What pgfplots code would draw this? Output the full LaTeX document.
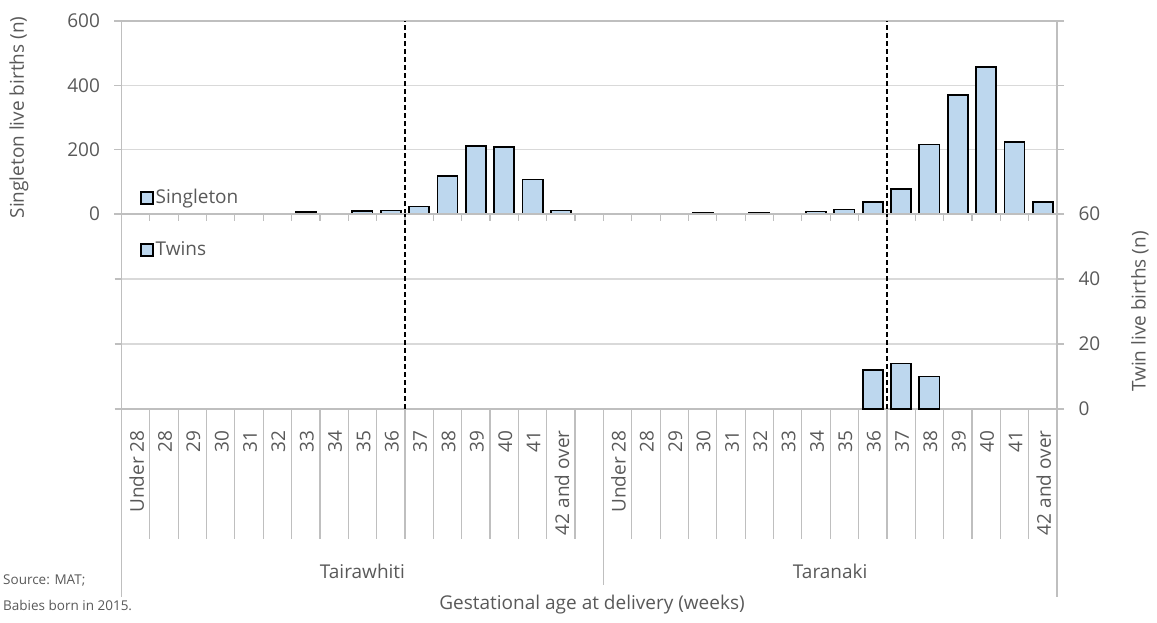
\documentclass[border=0pt]{standalone}
\usepackage{fontspec}
\setmainfont{Open Sans}
\usepackage{pgfplots}
\pgfplotsset{compat=1.18}
\definecolor{barblue}{HTML}{BDD7EE}
\definecolor{gridgray}{HTML}{D9D9D9}
\definecolor{axgray}{HTML}{BFBFBF}
\definecolor{txtgray}{HTML}{595959}
\newcommand{\mf}{\fontsize{19}{23}\selectfont}
\begin{document}
\mf
\begin{tikzpicture}
\useasboundingbox (0pt,0pt) rectangle (1157pt,623pt);
\pgfplotsset{
  common/.style={
    scale only axis, width=935.5pt, anchor=south west,
    xmin=-0.5, xmax=32.5,
    axis line style={axgray, line width=1.2pt},
    grid style={gridgray, line width=1.2pt},
    ymajorgrids,
    tick style={axgray, line width=1.2pt},
    tick align=outside,
    major tick length=7pt,
    ticklabel style={text=txtgray, font=\mf},
    label style={text=txtgray, font=\mf},
    /pgf/number format/assume math mode=true,
    clip=false,
    legend style={draw=none, fill=none, font=\mf, text=txtgray, inner sep=0pt, anchor=west},
  },
  barstyle/.style={ybar, bar width=0.71, fill=barblue, draw=black, line width=1.8pt,
    legend image code/.code={\draw[fill=barblue,draw=black,line width=1.5pt] (0pt,-6pt) rectangle (12pt,6pt);}},
  dline/.style={black, line width=1.6pt, dash pattern=on 5pt off 3pt, forget plot},
}
% ---------- Singleton panel ----------
\begin{axis}[common, at={(121.5pt,409pt)}, height=193pt,
  ymin=0, ymax=600, ytick={0,200,400,600},
  ytick pos=both, yticklabel pos=left,
  yticklabel style={xshift=-8pt},
  xtick={-0.5,0.5,...,32.5}, xticklabels={}, xtick pos=bottom,
  ylabel={Singleton live births (n)},
  ylabel style={at={(axis description cs:-0.1096,0.5)}, anchor=center, rotate=0},
  legend style={at={(axis description cs:0.0198,0.083)}},
]
\addplot[barstyle] coordinates {
 (6,7) (8,9) (9,11) (10,23) (11,119) (12,212) (13,209) (14,107) (15,11)
 (20,4) (22,4) (24,8) (25,14) (26,38) (27,78) (28,216) (29,370) (30,456) (31,224) (32,38)
};
\addlegendentry{Singleton}
\addplot[dline] coordinates {(9.5,0) (9.5,600)};
\addplot[dline] coordinates {(26.5,0) (26.5,600)};
\end{axis}
% ---------- Twins panel ----------
\begin{axis}[common, at={(121.5pt,214pt)}, height=195pt,
  ymin=0, ymax=60, ytick={0,20,40,60},
  yticklabel pos=right, ytick pos=both,
  yticklabel style={xshift=8pt},
  xtick={0,...,32}, xtick pos=bottom,
  xtick style={draw=none},
  xticklabels={Under 28,28,29,30,31,32,33,34,35,36,37,38,39,40,41,42 and over,{},
               Under 28,28,29,30,31,32,33,34,35,36,37,38,39,40,41,42 and over},
  xticklabel style={rotate=90, anchor=east, xshift=-8pt, yshift=-1pt},
  xlabel={Gestational age at delivery (weeks)},
  xlabel style={at={(axis description cs:0.503,-1.005)}, anchor=center},
  ylabel={Twin live births (n)},
  ylabel style={at={(axis description cs:1.0887,0.5)}, anchor=center, rotate=0},
  legend style={at={(axis description cs:0.0198,0.815)}},
]
\addplot[barstyle] coordinates {(26,12) (27,14) (28,10)};
\addlegendentry{Twins}
\addplot[dline] coordinates {(9.5,0) (9.5,60)};
\addplot[dline] coordinates {(26.5,0) (26.5,60)};
\pgfplotsinvokeforeach{-0.5,0.5,...,32.5}{\draw[axgray, line width=1.2pt] (axis cs:#1,0) -- ++(0pt,-130pt);}
\draw[axgray, line width=1.2pt] (axis cs:-0.5,0) -- ++(0pt,-188pt);
\draw[axgray, line width=1.2pt] (axis cs:16.5,0) -- ++(0pt,-176pt);
\draw[axgray, line width=1.2pt] (axis cs:32.5,0) -- ++(0pt,-188pt);
\node[text=txtgray, font=\mf] at ([yshift=-162pt]axis cs:8,0) {Tairawhiti};
\node[text=txtgray, font=\mf] at ([yshift=-162pt]axis cs:24.5,0) {Taranaki};
\end{axis}
\node[anchor=west, text=txtgray, font=\fontsize{13.5}{16}\selectfont, inner sep=0pt] at (3pt,43pt) {Source: MAT;};
\node[anchor=west, text=txtgray, font=\fontsize{13.5}{16}\selectfont, inner sep=0pt] at (3pt,18pt) {Babies born in 2015.};
\end{tikzpicture}
\end{document}
